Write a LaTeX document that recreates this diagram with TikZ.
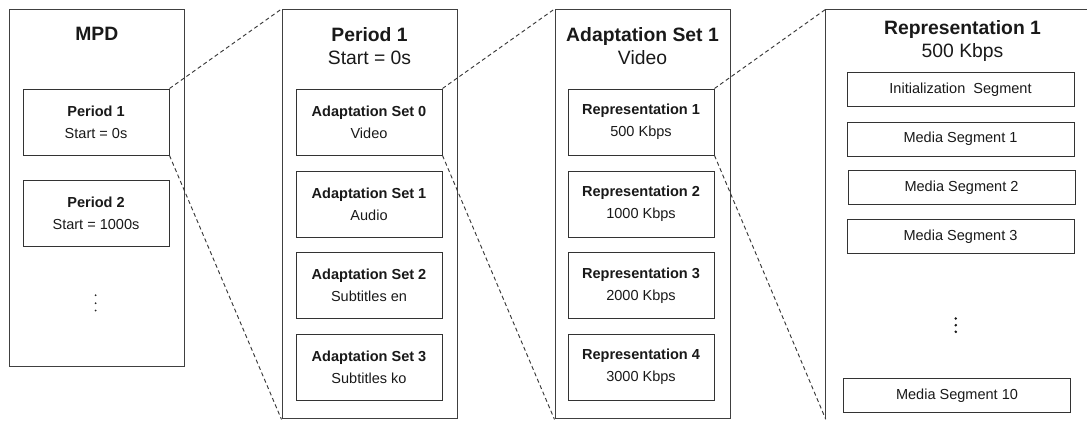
\documentclass[tikz,border=0pt]{standalone}
\usepackage{fontspec}
\setmainfont{Liberation Sans}

\tikzset{
  outerbox/.style={draw=black!75, line width=0.75pt, inner sep=0pt},
  outerline/.style={black!75, line width=0.75pt},
  itembox/.style={draw=black!80, line width=0.75pt, minimum width=109.5pt, minimum height=49.5pt, align=center, inner sep=0pt, text=black!90, font=\fontsize{10.9}{16.5}\selectfont},
  segbox/.style={draw=black!80, line width=0.75pt, minimum width=170.25pt, minimum height=25.5pt, inner sep=0pt, text=black!90, font=\fontsize{10.9}{13}\selectfont},
  boxtitle/.style={align=center, inner sep=0pt, text=black!90, font=\fontsize{14.5}{17.2}\selectfont},
  zoomline/.style={black!78, line width=0.7pt, dash pattern=on 3pt off 2.2pt}
}

\begin{document}
\begin{tikzpicture}[x=0.75pt,y=-0.75pt]
\useasboundingbox (0,0) rectangle (1087,421);
\clip (0,0) rectangle (1087,421);

\node[outerbox, minimum width=130.9pt, minimum height=268.1pt] (mpd) at (96.75,188.25) {};
\node[outerbox, minimum width=131.25pt, minimum height=307.1pt] (period) at (369.5,214.25) {};
\node[outerbox, minimum width=131.25pt, minimum height=307.1pt] (adset) at (642.5,214.25) {};
\node[inner sep=0pt, minimum width=225pt, minimum height=307.1pt] (rep) at (976,214.25) {};
\draw[outerline] (rep.south west) -- (rep.north west) -- (rep.north east);

\node[boxtitle] (mpdtitle) at (96.75,34) {\textbf{MPD}};
\node[boxtitle] (periodtitle) at (369.5,46.5) {\textbf{Period 1}\\Start = 0s};
\node[boxtitle] (adsettitle) at (642.5,46.5) {\textbf{Adaptation Set 1}\\Video};
\node[boxtitle] (reptitle) at (962.5,41) {\textbf{Representation 1}\\500 Kbps};

\node[itembox] (p1) at (96,122) {\textbf{Period 1}\\Start = 0s};
\node[itembox] (p2) at (96,213.5) {\textbf{Period 2}\\Start = 1000s};
\fill[black!85] (95.7,295.2) circle[radius=1] (95.7,303.2) circle[radius=1] (95.7,310.5) circle[radius=1];

\node[itembox] (as0) at (369,122) {\textbf{Adaptation Set 0}\\Video};
\node[itembox] (as1) at (369,204) {\textbf{Adaptation Set 1}\\Audio};
\node[itembox] (as2) at (369,285.5) {\textbf{Adaptation Set 2}\\Subtitles en};
\node[itembox] (as3) at (369,367) {\textbf{Adaptation Set 3}\\Subtitles ko};

\node[itembox] (r1) at (641,122) {\textbf{Representation 1}\\500 Kbps};
\node[itembox] (r2) at (641,204) {\textbf{Representation 2}\\1000 Kbps};
\node[itembox] (r3) at (641,285.5) {\textbf{Representation 3}\\2000 Kbps};
\node[itembox] (r4) at (641,367) {\textbf{Representation 4}\\3000 Kbps};

\node[segbox] (init) at (960.5,89.5) {Initialization\ \ Segment};
\node[segbox] (ms1) at (960.5,139) {Media Segment 1};
\node[segbox] (ms2) at (961.5,187.5) {Media Segment 2};
\node[segbox] (ms3) at (960.5,236.5) {Media Segment 3};
\fill[black!90] (955.8,318.5) circle[radius=1.4] (955.8,325.2) circle[radius=1.4] (955.8,331.8) circle[radius=1.4];
\node[segbox] (ms10) at (957,395.5) {Media Segment 10};

\draw[zoomline] (p1.north east) -- (period.north west);
\draw[zoomline] (p1.south east) -- (period.south west);
\draw[zoomline] (as0.north east) -- (adset.north west);
\draw[zoomline] (as0.south east) -- (adset.south west);
\draw[zoomline] (r1.north east) -- (rep.north west);
\draw[zoomline] (r1.south east) -- (rep.south west);

\end{tikzpicture}
\end{document}
